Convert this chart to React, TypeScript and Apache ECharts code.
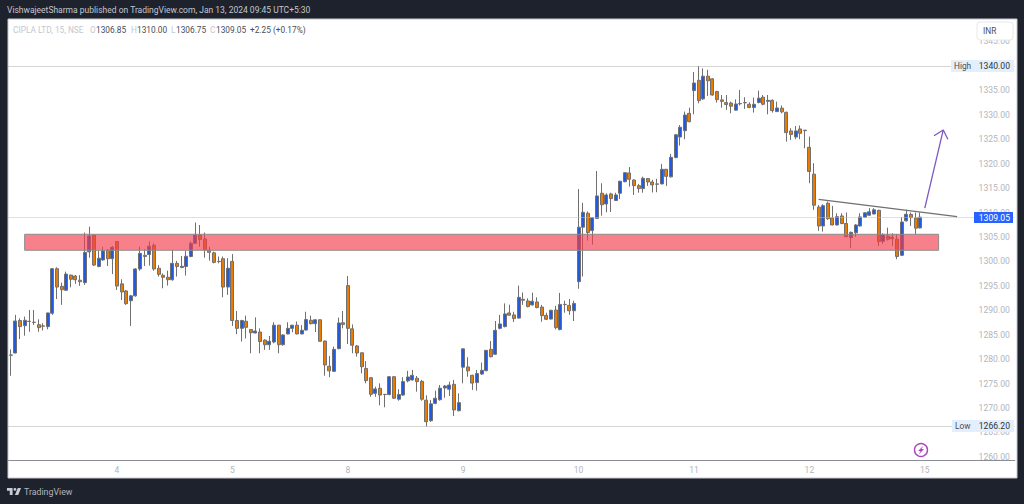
import React, { useEffect, useRef } from "react";
import * as echarts from "echarts";

type Row = [number, number, number, number]; // open, high, low, close

const jan03: Row[] = [
  [1280.8,1282.0,1276.6,1280.85],[1281.25,1289.05,1281.2,1287.8],[1287.9,1288.35,1284.1,1286.65],[1286.85,1288.7,1284.8,1287.95],
  [1287.7,1290.05,1285.6,1287.75],[1287.55,1290.05,1287.0,1287.5],[1287.05,1288.15,1285.6,1286.45],[1286.8,1287.35,1285.85,1286.75],
  [1286.65,1289.5,1286.1,1289.45],[1289.4,1298.6,1289.05,1298.5],[1298.5,1298.8,1292.3,1294.75],[1294.9,1295.65,1291.1,1294.2],
  [1294.1,1297.9,1293.95,1297.4],[1297.2,1297.25,1294.7,1296.35],[1297.0,1297.2,1295.4,1296.25],[1296.15,1297.2,1295.0,1295.85],
  [1295.65,1305.9,1295.2,1301.85],[1301.95,1307.1,1300.75,1305.2],[1305.35,1305.4,1299.05,1299.25],[1298.95,1302.2,1298.8,1300.65],
  [1300.3,1303.0,1300.15,1302.2],[1302.3,1302.5,1299.05,1300.55],[1300.55,1303.15,1297.4,1302.9],
];
const jan04: Row[] = [
  [1304.05,1304.1,1294.15,1294.95],[1295.4,1296.35,1292.1,1293.75],[1293.95,1294.15,1291.1,1291.35],[1291.95,1293.15,1286.8,1292.95],
  [1292.95,1298.6,1292.8,1298.45],[1298.45,1303.0,1298.1,1301.65],[1301.25,1302.5,1299.05,1301.0],[1301.4,1304.1,1299.15,1303.1],
  [1303.3,1303.7,1298.1,1298.45],[1298.6,1299.25,1296.9,1297.35],[1297.15,1297.55,1294.5,1296.75],[1296.75,1298.1,1295.05,1296.25],
  [1296.25,1302.35,1296.05,1299.6],[1299.6,1300.1,1296.9,1298.95],[1298.75,1301.1,1298.6,1299.0],[1298.95,1302.2,1297.1,1301.05],
  [1301.0,1304.1,1300.85,1303.7],[1303.7,1307.95,1303.55,1305.4],[1305.35,1307.45,1303.0,1304.5],[1304.6,1305.9,1300.75,1302.4],
  [1302.3,1303.0,1300.15,1301.85],[1301.75,1302.0,1299.6,1299.8],[1300.0,1301.0,1299.6,1299.95],[1300.55,1301.0,1292.65,1294.75],
  [1294.75,1300.65,1293.15,1298.6],
];
const jan05: Row[] = [
  [1300.0,1301.5,1286.8,1287.9],[1287.9,1289.85,1285.1,1286.3],[1286.3,1288.05,1283.6,1287.9],[1287.75,1288.9,1284.25,1286.5],
  [1286.05,1286.1,1281.2,1285.4],[1285.35,1288.55,1285.3,1285.75],[1285.55,1286.3,1281.2,1283.6],[1283.9,1284.05,1281.9,1282.95],
  [1282.95,1284.75,1281.9,1283.65],[1283.5,1287.55,1283.25,1286.95],[1286.95,1287.0,1281.2,1282.95],[1282.95,1285.1,1282.75,1284.95],
  [1285.15,1287.55,1285.1,1286.3],[1286.3,1287.0,1285.5,1286.95],[1286.95,1287.7,1285.1,1285.15],[1285.15,1286.95,1285.1,1285.9],
  [1285.95,1289.7,1285.85,1288.1],[1287.95,1288.9,1287.1,1287.25],[1287.25,1288.1,1285.55,1288.05],[1288.05,1288.1,1283.6,1283.65],
  [1283.7,1283.8,1276.6,1278.8],[1278.55,1280.65,1276.3,1277.6],[1277.5,1282.55,1277.4,1282.0],[1282.15,1288.5,1282.0,1287.4],
  [1287.45,1289.85,1286.3,1287.1],
];
const jan08: Row[] = [
  [1295.05,1297.0,1283.1,1286.3],[1286.2,1287.1,1281.2,1282.85],[1282.7,1282.9,1280.5,1281.25],[1281.3,1281.35,1277.1,1278.45],
  [1278.1,1279.6,1275.05,1275.6],[1276.2,1276.3,1272.3,1272.8],[1273.0,1274.35,1272.3,1273.9],[1274.05,1275.05,1270.55,1272.65],
  [1272.8,1272.85,1270.15,1272.75],[1272.75,1276.55,1272.6,1276.4],[1276.4,1276.55,1271.85,1272.0],[1271.8,1273.85,1271.5,1272.75],
  [1272.65,1276.3,1272.5,1275.4],[1275.55,1277.6,1275.25,1276.35],[1275.75,1277.8,1275.6,1276.7],[1276.1,1276.55,1273.35,1275.4],
  [1275.45,1275.75,1271.5,1271.8],[1271.6,1272.6,1266.2,1267.2],[1267.4,1271.65,1267.15,1270.85],[1270.95,1273.55,1270.75,1272.0],
  [1271.7,1274.7,1271.5,1274.05],[1274.1,1274.7,1272.1,1274.5],[1273.85,1275.4,1272.45,1274.7],[1274.85,1275.75,1268.35,1269.6],
  [1269.45,1273.0,1269.3,1271.1],
];
const jan09: Row[] = [
  [1278.35,1282.2,1275.05,1282.1],[1278.4,1280.4,1276.4,1277.6],[1276.7,1276.8,1273.7,1275.1],[1275.2,1277.8,1273.55,1277.05],
  [1276.95,1279.3,1276.8,1277.7],[1277.65,1281.85,1277.5,1281.8],[1282.0,1283.7,1280.35,1280.5],[1281.0,1287.8,1280.85,1285.9],
  [1286.3,1289.05,1286.1,1287.2],[1286.65,1291.4,1286.5,1289.25],[1289.45,1291.15,1288.9,1289.0],[1289.05,1289.7,1287.6,1288.3],
  [1288.4,1295.05,1288.3,1292.65],[1292.25,1293.65,1291.1,1292.05],[1291.9,1292.45,1290.6,1290.75],[1291.1,1293.6,1290.95,1291.85],
  [1291.7,1292.65,1290.4,1290.55],[1290.65,1291.1,1287.65,1288.9],[1288.95,1289.5,1288.0,1288.15],[1288.2,1290.1,1288.1,1290.0],
  [1290.05,1290.9,1286.1,1286.45],[1286.05,1293.55,1285.9,1291.2],[1291.2,1291.95,1289.5,1291.15],[1291.0,1292.3,1289.05,1289.9],
  [1289.9,1291.95,1287.8,1291.4],
];
const jan10: Row[] = [
  [1295.85,1314.8,1294.4,1307.0],[1307.0,1312.0,1296.9,1310.05],[1309.85,1310.2,1304.25,1305.9],[1306.3,1309.0,1303.45,1308.95],
  [1308.8,1318.5,1308.7,1313.4],[1313.95,1316.0,1309.35,1311.6],[1311.75,1313.95,1310.05,1313.6],[1313.8,1314.05,1310.1,1312.85],
  [1312.45,1314.05,1312.35,1313.6],[1313.95,1316.5,1312.75,1316.4],[1316.3,1318.25,1316.2,1318.15],[1318.1,1319.3,1315.3,1316.8],
  [1316.65,1316.8,1313.6,1315.5],[1315.5,1315.85,1314.05,1314.9],[1314.9,1317.35,1314.05,1317.0],[1316.95,1317.0,1315.45,1316.25],
  [1316.25,1316.7,1314.1,1315.65],[1315.8,1316.9,1314.15,1315.85],[1315.85,1319.95,1315.8,1318.85],[1318.85,1318.9,1315.45,1317.4],
  [1317.3,1322.0,1317.15,1321.3],[1321.25,1326.1,1321.1,1325.9],[1325.45,1327.9,1323.7,1327.45],[1326.75,1330.65,1325.0,1329.95],
  [1330.3,1331.45,1328.45,1328.6],
];
const jan11: Row[] = [
  [1334.95,1338.75,1330.1,1336.5],[1337.05,1340.0,1332.35,1332.9],[1333.25,1339.5,1333.05,1337.9],[1337.9,1339.2,1333.85,1336.95],
  [1337.35,1337.5,1333.9,1334.05],[1334.75,1334.9,1332.5,1333.1],[1333.05,1334.05,1331.45,1332.75],[1332.5,1334.05,1331.0,1332.1],
  [1332.4,1332.7,1330.3,1331.75],[1330.95,1333.15,1330.85,1332.2],[1332.25,1335.1,1331.9,1332.3],[1332.45,1333.6,1331.2,1332.5],
  [1332.15,1332.55,1331.35,1331.5],[1331.5,1333.5,1330.45,1332.15],[1332.5,1334.95,1332.35,1333.4],[1333.6,1334.05,1331.95,1332.15],
  [1332.75,1334.05,1330.1,1332.95],[1332.95,1333.15,1330.45,1330.85],[1330.65,1332.7,1330.6,1331.4],[1331.35,1331.9,1330.3,1330.6],
  [1330.5,1330.65,1324.5,1326.35],[1326.7,1327.25,1324.85,1325.95],[1325.45,1327.7,1325.0,1326.7],[1327.1,1327.8,1325.0,1326.2],
  [1326.85,1326.9,1323.15,1326.75],
];
const jan12: Row[] = [
  [1323.35,1325.55,1316.0,1318.4],[1317.85,1320.1,1310.55,1311.5],[1311.1,1311.55,1306.25,1307.25],[1307.25,1311.7,1306.1,1311.4],
  [1311.9,1312.25,1308.5,1308.75],[1308.9,1311.35,1307.4,1307.45],[1307.45,1309.85,1307.35,1309.15],[1309.3,1309.85,1307.6,1307.75],
  [1307.75,1310.0,1304.95,1305.05],[1304.85,1306.1,1302.7,1305.95],[1305.85,1307.65,1305.05,1307.45],[1307.25,1309.85,1307.15,1309.1],
  [1309.05,1310.0,1308.9,1309.95],[1309.45,1310.9,1309.3,1310.15],[1309.7,1310.9,1309.65,1310.55],[1310.45,1310.55,1303.15,1304.05],
  [1304.1,1305.75,1303.55,1305.4],[1305.15,1306.9,1304.25,1304.55],[1304.95,1305.75,1303.15,1304.65],[1304.55,1305.6,1300.45,1301.0],
  [1301.25,1309.05,1301.1,1308.05],[1308.3,1310.55,1308.15,1309.65],[1309.6,1310.0,1307.25,1308.95],[1308.9,1310.0,1305.55,1306.8],
  [1306.85,1310.0,1306.75,1309.05],
];

const sessions: Row[][] = [jan03, jan04, jan05, jan08, jan09, jan10, jan11, jan12];
const dayLabels = ["4", "5", "8", "9", "10", "11", "12", "15"];
const priceTicks = [1260, 1265, 1270, 1275, 1280, 1285, 1290, 1295, 1300, 1305, 1310, 1315, 1320, 1325, 1330, 1335, 1340, 1345];
const highValue = 1340;
const lowValue = 1266.2;
const lastValue = 1309.05;
const zoneLow = 1302.28;
const zoneHigh = 1305.55;
const trendLine = [[175, 1312.7], [205, 1309.16]];
const arrowShaft = [[198, 1310.9], [202, 1326.9]];
const arrowHead = [[200, 1325.7], [202, 1326.9], [203, 1325.0]];
const SLOT_COUNT = 218;

const FONT = "Roboto, sans-serif";
const GREY = "#b2b5be";

function txt(x: number, y: number, text: string, fill: string, size = 8.3, align = "left") {
  return {
    type: "text", x, y, z: 30,
    style: { text, fill, font: `${size}px ${FONT}`, textAlign: align, textVerticalAlign: "middle" },
  };
}

export default function App() {
  const ref = useRef<HTMLDivElement>(null);
  useEffect(() => {
    document.body.style.margin = "0";
    const chart = echarts.init(ref.current!, null, { renderer: "svg" });
    echarts.graphic.registerShape(
      "tvLogo",
      echarts.graphic.extendPath(
        "M14 6H2v6h6v9h6V6Zm12 15h-7l6-15h7l-6 15Zm-7-9a3 3 0 1 0 0-6 3 3 0 0 0 0 6Z",
        {}
      )
    );

    const candles = sessions.flat().map(([o, h, l, c]) => [o, c, l, h]);
    const firstDayStart = sessions[0].length;
    const categories: string[] = [];
    for (let i = 0; i < SLOT_COUNT; i++) {
      const k = (i - firstDayStart) / 25;
      categories.push(Number.isInteger(k) && dayLabels[k] ? dayLabels[k] : "");
    }

    chart.setOption({
      animation: false,
      backgroundColor: "#1e222d",
      grid: { left: 8.5, top: 19, width: 1006.3, height: 441 },
      tooltip: { show: false },
      xAxis: {
        type: "category",
        data: categories,
        boundaryGap: true,
        axisLine: { show: true, lineStyle: { color: "#8a8d93", width: 1 } },
        axisTick: { show: false },
        splitLine: { show: false },
        axisLabel: { interval: 0, color: GREY, fontSize: 8.5, fontFamily: FONT, margin: 5, hideOverlap: false },
      },
      yAxis: {
        type: "value",
        position: "right",
        min: 1259.36,
        max: 1349.6,
        splitLine: { show: false },
        axisLine: { show: false },
        axisTick: { show: false },
        axisLabel: {
          inside: true,
          margin: 5,
          customValues: priceTicks,
          color: GREY,
          fontSize: 8.6,
          fontFamily: FONT,
          formatter: (v: number) => v.toFixed(2),
        },
      },
      series: [
        {
          type: "candlestick",
          data: candles,
          barWidth: 3.5,
          itemStyle: {
            color: "#1f5ae0",
            color0: "#ea7a00",
            borderColor: "#707070",
            borderColor0: "#707070",
            borderWidth: 1,
          },
          markLine: {
            silent: true,
            symbol: "none",
            label: { show: false },
            data: [
              { yAxis: highValue, lineStyle: { color: "#a8a8a8", type: "dotted", width: 1 } },
              { yAxis: lowValue, lineStyle: { color: "#a8a8a8", type: "dotted", width: 1 } },
              { yAxis: lastValue, lineStyle: { color: "#a9c1f2", type: "dotted", width: 1 } },
            ],
          },
        },
        {
          type: "line",
          data: trendLine,
          z: 6,
          symbol: "none",
          lineStyle: { color: "#707070", width: 1.2 },
          markArea: {
            silent: true,
            z: 5,
            itemStyle: {
              color: "rgba(245,60,75,0.65)",
              borderColor: "#8c8c8c",
              borderWidth: 1,
            },
            data: [[{ coord: [3, zoneHigh] }, { coord: [201, zoneLow] }]],
          },
        },
        { type: "line", data: arrowShaft, z: 6, symbol: "none", lineStyle: { color: "#7e57c2", width: 1.3 } },
        { type: "line", data: arrowHead, z: 6, symbol: "none", lineStyle: { color: "#7e57c2", width: 1.3 } },
      ],
      graphic: [
        { type: "rect", z: -10, shape: { x: 8, y: 19, width: 1009, height: 459 }, style: { fill: "#ffffff", stroke: "#c5c8ce", lineWidth: 1 } },
        txt(7, 10, "VishwajeetSharma published on TradingView.com, Jan 13, 2024 09:45 UTC+5:30", "#c3c6ce", 8.5),
        txt(13, 30, "CIPLA LTD, 15, NSE", "#c4c7cf"),
        txt(90, 30, "O", "#c4c7cf"),
        txt(96, 30, "1306.85", "#4a4d55"),
        txt(131, 30, "H", "#c4c7cf"),
        txt(137, 30, "1310.00", "#4a4d55"),
        txt(171, 30, "L", "#c4c7cf"),
        txt(176, 30, "1306.75", "#4a4d55"),
        txt(210, 30, "C", "#c4c7cf"),
        txt(216, 30, "1309.05", "#4a4d55"),
        txt(250, 30, "+2.25 (+0.17%)", "#4a4d55"),
        { type: "rect", z: 29, shape: { x: 977, y: 22, width: 36, height: 18, r: 3 }, style: { fill: "#ffffff", stroke: "#e6e8ec", lineWidth: 1 } },
        txt(983, 31, "INR", "#4a4d55"),
        { type: "rect", z: 29, shape: { x: 951, y: 60, width: 63, height: 12 }, style: { fill: "#e3effd" } },
        txt(954, 66, "High", "#4a4d55"),
        txt(1010, 66, "1340.00", "#2f3238", 8.6, "right"),
        { type: "rect", z: 29, shape: { x: 952, y: 420, width: 62, height: 12 }, style: { fill: "#e3effd" } },
        txt(955, 426, "Low", "#4a4d55"),
        txt(1010, 426, "1266.20", "#2f3238", 8.6, "right"),
        { type: "rect", z: 29, shape: { x: 974, y: 212, width: 39, height: 11 }, style: { fill: "#2962ff" } },
        txt(1010, 217.5, "1309.05", "#ffffff", 8.6, "right"),
        { type: "circle", z: 29, shape: { cx: 921, cy: 450, r: 6.5 }, style: { fill: "#ffffff", stroke: "#ab47bc", lineWidth: 1.4 } },
        { type: "polygon", z: 30, shape: { points: [[923.5, 445.5], [918, 451], [920.5, 451], [918.8, 454.5], [924, 449], [921.5, 449]] }, style: { fill: "#ab47bc" } },
        { type: "tvLogo", z: 30, x: 6, y: 485.2, scaleX: 0.47, scaleY: 0.47, style: { fill: "#c9ccd3" } },
        txt(24, 492, "TradingView", "#b2b5be", 8.8),
      ],
    });
    return () => chart.dispose();
  }, []);
  return <div ref={ref} style={{ width: 1024, height: 504 }} />;
}
